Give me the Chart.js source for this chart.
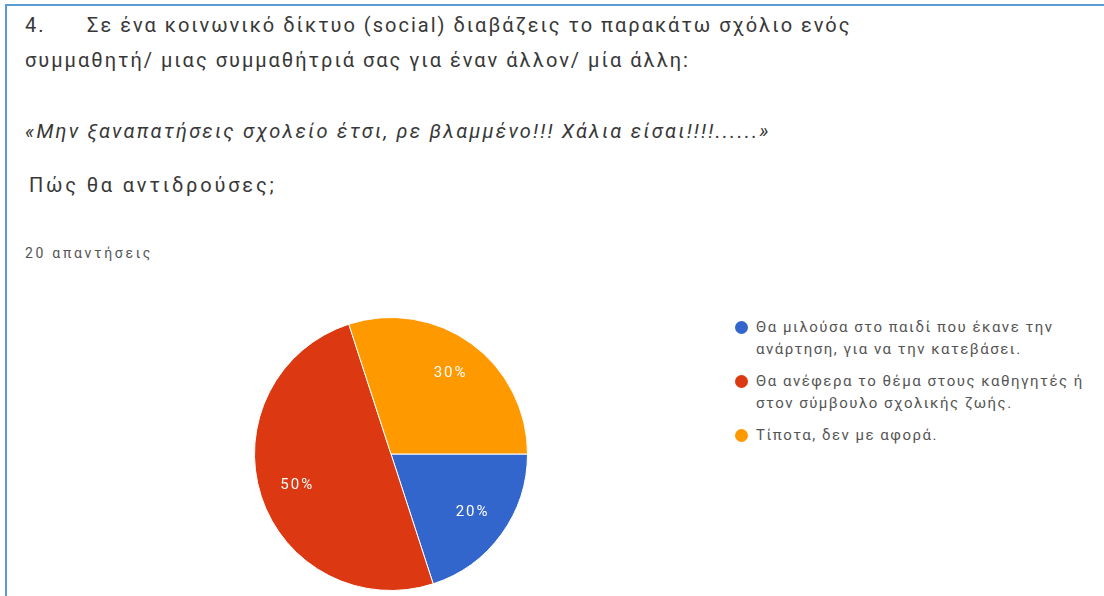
<!DOCTYPE html>
<html lang="el">
<head>
<meta charset="utf-8">
<title>Πώς θα αντιδρούσες;</title>
<script src="https://cdn.jsdelivr.net/npm/chart.js@4/dist/chart.umd.min.js"></script>
<style>
  html, body { margin: 0; padding: 0; background: #fff; }
  body { width: 1104px; height: 596px; position: relative; overflow: hidden; font-family: Roboto, "Noto Sans", Arial, sans-serif; }
  .frame-top { position: absolute; left: 5px; top: 4px; width: 1099px; height: 2px; background: #5b9bd5; }
  .frame-left { position: absolute; left: 5px; top: 4px; width: 2px; height: 592px; background: #5b9bd5; }
  .t { position: absolute; white-space: nowrap; color: #383838; }
  .q { font-size: 20px; line-height: 24px; letter-spacing: 2px; }
  .num { display: inline-block; width: 62px; }
  .it { font-style: italic; letter-spacing: 2.2px; }
  .ask { letter-spacing: 2.8px; }
  .resp { font-size: 14px; line-height: 16px; letter-spacing: 2.7px; color: #555; }
  #chartBox { position: absolute; left: 254px; top: 317px; width: 274px; height: 274px; }
  #legend { position: absolute; left: 734px; top: 316px; width: 370px; margin: 0; padding: 0; list-style: none; }
  #legend li { position: relative; padding-left: 22px; width: 346px; font-size: 15px; line-height: 22px; letter-spacing: 1.5px; color: #555; margin-bottom: 10px; }
  #legend .dot { position: absolute; left: 1px; top: 5px; width: 13px; height: 13px; border-radius: 50%; }
</style>
</head>
<body>
<div class="frame-top"></div>
<div class="frame-left"></div>

<div class="t q" style="left:25px; top:13px;"><span class="num">4.</span>Σε ένα κοινωνικό δίκτυο (social) διαβάζεις το παρακάτω σχόλιο ενός</div>
<div class="t q" style="left:25px; top:48px;">συμμαθητή/ μιας συμμαθήτριά σας για έναν άλλον/ μία άλλη:</div>
<div class="t q it" style="left:25px; top:119px;">«Μην ξαναπατήσεις σχολείο έτσι, ρε βλαμμένο!!! Χάλια είσαι!!!!......»</div>
<div class="t q ask" style="left:29px; top:173px;">Πώς θα αντιδρούσες;</div>
<div class="t resp" style="left:25px; top:245px;">20 απαντήσεις</div>

<div id="chartBox"><canvas id="pie"></canvas></div>
<ul id="legend"></ul>

<script>
// Answers to question 4 (20 responses in total)
const answers = [
  "Θα μιλούσα στο παιδί που έκανε την ανάρτηση, για να την κατεβάσει.",
  "Θα ανέφερα το θέμα στους καθηγητές ή στον σύμβουλο σχολικής ζωής.",
  "Τίποτα, δεν με αφορά."
];
const responseCounts = [4, 10, 6];
const sliceColors = ["#3366cc", "#dc3912", "#ff9900"];

// Writes each slice's share (as a percentage) inside the slice
const sliceLabels = {
  id: "sliceLabels",
  afterDatasetsDraw(chart) {
    const { ctx } = chart;
    const meta = chart.getDatasetMeta(0);
    const values = chart.data.datasets[0].data;
    const total = values.reduce((a, b) => a + b, 0);
    ctx.save();
    ctx.fillStyle = "#ffffff";
    ctx.font = "15px Roboto, Arial, sans-serif";
    ctx.letterSpacing = "2px";
    ctx.textAlign = "center";
    ctx.textBaseline = "middle";
    meta.data.forEach((arc, i) => {
      const p = arc.getProps(["x", "y", "startAngle", "endAngle", "outerRadius"], true);
      const mid = (p.startAngle + p.endAngle) / 2;
      const r = p.outerRadius * 0.73;
      const pct = Math.round(values[i] / total * 100) + "%";
      ctx.fillText(pct, p.x + Math.cos(mid) * r + 1, p.y + Math.sin(mid) * r);
    });
    ctx.restore();
  }
};

const chart = new Chart(document.getElementById("pie"), {
  type: "pie",
  data: {
    labels: answers,
    datasets: [{
      data: responseCounts,
      backgroundColor: sliceColors,
      borderColor: "#ffffff",
      borderWidth: 1
    }]
  },
  options: {
    responsive: true,
    maintainAspectRatio: false,
    animation: false,
    rotation: 90,
    layout: { padding: 0 },
    plugins: {
      legend: { display: false },
      tooltip: { enabled: false }
    }
  },
  plugins: [sliceLabels]
});

// Legend list built from the chart's own legend items
const legendEl = document.getElementById("legend");
chart.options.plugins.legend.labels.generateLabels(chart).forEach(item => {
  const li = document.createElement("li");
  const dot = document.createElement("span");
  dot.className = "dot";
  dot.style.background = item.fillStyle;
  li.appendChild(dot);
  li.appendChild(document.createTextNode(item.text));
  legendEl.appendChild(li);
});
</script>
</body>
</html>
